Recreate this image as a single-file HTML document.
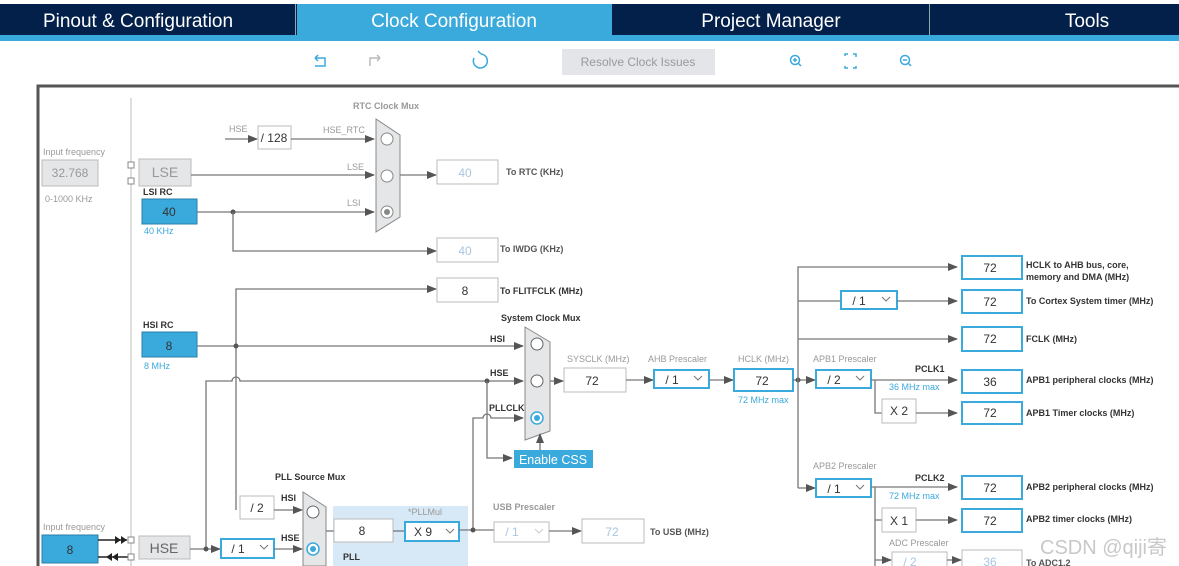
<!DOCTYPE html>
<html><head><meta charset="utf-8"><style>
html,body{margin:0;padding:0;background:#fff;width:1179px;height:566px;overflow:hidden}
svg{display:block}
text{font-family:"Liberation Sans",sans-serif}
.l{font-size:9px;fill:#555;font-weight:bold}
.lb{font-size:9px;fill:#333;font-weight:bold}
.g{font-size:9px;fill:#999}
.v{font-size:12px;fill:#333;text-anchor:middle}
.f{font-size:12px;fill:#a8c6e0;text-anchor:middle}
.bl{font-size:9px;fill:#3aa9dc}
.ln{stroke:#777;stroke-width:1.3;fill:none}
.bx{fill:#fff;stroke:#bbb;stroke-width:1}
.bb{fill:#fff;stroke:#3aa9dc;stroke-width:2}
</style></head><body>
<svg width="1179" height="566" viewBox="0 0 1179 566" xmlns="http://www.w3.org/2000/svg">
<defs>
<marker id="a" markerWidth="10" markerHeight="8" refX="9" refY="4" orient="auto" markerUnits="userSpaceOnUse"><path d="M0,0 L10,4 L0,8 z" fill="#555"/></marker>
</defs>
<rect x="0" y="4" width="1179" height="31" fill="#03204a"/>
<rect x="297" y="4" width="315" height="31" fill="#3aa9dc"/>
<rect x="0" y="35" width="1179" height="6" fill="#3aa9dc"/>
<rect x="295" y="4" width="1" height="31" fill="#8aa"/>
<rect x="929" y="4" width="1" height="31" fill="#8aa"/>
<g font-size="19" fill="#fff" text-anchor="middle">
<text x="138" y="27">Pinout &amp; Configuration</text>
<text x="454" y="27">Clock Configuration</text>
<text x="771" y="27">Project Manager</text>
<text x="1087" y="27">Tools</text>
</g>
<g stroke="#3aa9dc" stroke-width="1.5" fill="none">
<path d="M315,58 h10 v8 h-10 M315,58 l3,-3 M315,58 l3,3"/>
<path d="M474,58 a7,7 0 1,0 7,-4 M481,54 l-3,-3"/>
<circle cx="795" cy="60" r="4.5"/><path d="M798,63 l3,3 M793,60 h4 M795,58 v4"/>
<path d="M845,56 v-2 h3 M853,54 h3 v3 M856,66 v2 h-3 M848,68 h-3 v-2"/>
<circle cx="905" cy="60" r="4.5"/><path d="M908,63 l3,3 M903,60 h4"/>
</g>
<path d="M370,66 v-8 h10 M380,58 l-3,-3 M380,58 l-3,3" stroke="#bbb" stroke-width="1.5" fill="none"/>
<rect x="562" y="49" width="153" height="26" fill="#e3e5e8"/>
<text x="638" y="66" font-size="12" fill="#999" text-anchor="middle">Resolve Clock Issues</text>
<path d="M38,566 V86 H1179" stroke="#555" stroke-width="3" fill="none"/>
<line x1="131" y1="98" x2="131" y2="566" stroke="#ccc" stroke-width="1.3"/>

<text x="43" y="155" class="g">Input frequency</text>
<rect x="42" y="160" width="56" height="26" fill="#e4e6e8" stroke="#bbb"/>
<text x="70" y="177" font-size="12" fill="#999" text-anchor="middle">32.768</text>
<text x="45" y="202" class="g">0-1000 KHz</text>
<rect x="128" y="162" width="6" height="6" fill="#fff" stroke="#888"/>
<rect x="128" y="178" width="6" height="6" fill="#fff" stroke="#888"/>
<rect x="139" y="159" width="52" height="27" fill="#e4e6e8" stroke="#bbb"/>
<text x="165" y="177" font-size="14" fill="#999" text-anchor="middle">LSE</text>
<text x="143" y="195" class="lb" font-weight="normal">LSI RC</text>
<rect x="142" y="199" width="55" height="25" fill="#3aa9dc" stroke="#2a7fa8"/>
<text x="169" y="216" class="v">40</text>
<text x="144" y="234" class="bl">40 KHz</text>

<text x="353" y="109" class="g" font-weight="bold">RTC Clock Mux</text>
<polygon points="376,119 400,135 400,217 376,232" fill="#e4e6e8" stroke="#888"/>
<circle cx="387" cy="139" r="6" fill="#fff" stroke="#888"/>
<circle cx="387" cy="176" r="6" fill="#fff" stroke="#888"/>
<circle cx="387" cy="212" r="6" fill="#fff" stroke="#888"/><circle cx="387" cy="212" r="3" fill="#888"/>
<text x="229" y="132" class="g">HSE</text>
<line x1="225" y1="139" x2="257" y2="139" class="ln" marker-end="url(#a)"/>
<rect x="258" y="126" width="33" height="23" class="bx" stroke="#999"/>
<text x="274" y="142" class="v">/ 128</text>
<text x="323" y="133" class="g">HSE_RTC</text>
<line x1="291" y1="139" x2="374" y2="139" class="ln" marker-end="url(#a)"/>
<text x="347" y="170" class="g">LSE</text>
<line x1="191" y1="175" x2="374" y2="175" class="ln" marker-end="url(#a)"/>
<text x="347" y="206" class="g">LSI</text>
<line x1="197" y1="212" x2="374" y2="212" class="ln" marker-end="url(#a)"/>
<circle cx="233" cy="212" r="2.5" fill="#555"/>
<line x1="400" y1="175" x2="436" y2="175" class="ln" marker-end="url(#a)"/>
<rect x="437" y="160" width="61" height="24" class="bx"/>
<text x="465" y="177" class="f">40</text>
<text x="506" y="175" class="l">To RTC (KHz)</text>
<path d="M233,212 V251 H436" class="ln" marker-end="url(#a)"/>
<rect x="437" y="238" width="61" height="24" class="bx"/>
<text x="465" y="255" class="f">40</text>
<text x="500" y="252" class="l">To IWDG (KHz)</text>
<path d="M236,510 V289 H436" class="ln" marker-end="url(#a)"/>
<rect x="437" y="278" width="61" height="24" class="bx" stroke="#999"/>
<text x="465" y="295" class="v">8</text>
<text x="500" y="294" class="lb">To FLITFCLK (MHz)</text>

<text x="143" y="328" class="lb" font-weight="normal">HSI RC</text>
<rect x="142" y="332" width="55" height="25" fill="#3aa9dc" stroke="#2a7fa8"/>
<text x="169" y="350" class="v">8</text>
<text x="144" y="369" class="bl">8 MHz</text>
<line x1="197" y1="346" x2="523" y2="346" class="ln" marker-end="url(#a)"/>
<circle cx="236" cy="346" r="2.5" fill="#555"/>
<path d="M206,549 V381 H232 a4,4 0 0,1 8,0 H523" class="ln" marker-end="url(#a)"/>
<circle cx="487" cy="381" r="2.5" fill="#555"/>
<path d="M487,381 V458 H512" class="ln" marker-end="url(#a)"/>
<path d="M473,530 V418 H483 a4,4 0 0,1 8,0 H523" class="ln" marker-end="url(#a)"/>
<text x="490" y="342" class="lb">HSI</text>
<text x="490" y="376" class="lb">HSE</text>
<text x="489" y="411" class="lb">PLLCLK</text>
<text x="501" y="321" class="lb" fill="#444">System Clock Mux</text>
<polygon points="525,327 550,342 550,431 525,440" fill="#e4e6e8" stroke="#888"/>
<circle cx="537" cy="344" r="6" fill="#fff" stroke="#666"/>
<circle cx="537" cy="381" r="6" fill="#fff" stroke="#666"/>
<circle cx="537" cy="418" r="6" fill="#fff" stroke="#3aa9dc" stroke-width="1.5"/><circle cx="537" cy="418" r="3" fill="#3aa9dc"/>
<line x1="540" y1="450" x2="540" y2="434" class="ln" marker-end="url(#a)"/>
<rect x="514" y="450" width="79" height="18" fill="#3aa9dc"/>
<text x="553" y="464" font-size="12.5" fill="#fff" text-anchor="middle">Enable CSS</text>
<line x1="550" y1="381" x2="563" y2="381" class="ln" marker-end="url(#a)"/>
<text x="567" y="362" class="g" fill="#666">SYSCLK (MHz)</text>
<rect x="564" y="368" width="62" height="24" class="bx" stroke="#aaa"/>
<text x="592" y="385" class="v">72</text>

<text x="275" y="480" class="lb">PLL Source Mux</text>
<rect x="240" y="496" width="34" height="23" class="bx" stroke="#aaa"/>
<text x="257" y="512" class="v">/ 2</text>
<line x1="274" y1="510" x2="302" y2="510" class="ln" marker-end="url(#a)"/>
<text x="281" y="501" class="lb">HSI</text>
<text x="281" y="541" class="lb">HSE</text>
<polygon points="303,492 326,507 326,566 303,566" fill="#e4e6e8" stroke="#888"/>
<circle cx="313" cy="512" r="6" fill="#fff" stroke="#666"/>
<circle cx="313" cy="549" r="6" fill="#fff" stroke="#3aa9dc" stroke-width="1.5"/><circle cx="313" cy="549" r="3" fill="#3aa9dc"/>
<text x="43" y="530" class="g" fill="#666">Input frequency</text>
<rect x="42" y="535" width="56" height="28" fill="#3aa9dc" stroke="#2a7fa8"/>
<text x="70" y="554" class="v">8</text>
<line x1="98" y1="540" x2="127" y2="540" stroke="#222" stroke-width="1.5"/>
<path d="M115,536 l6,4 l-6,4z M121,536 l6,4 l-6,4z" fill="#222"/>
<line x1="98" y1="557" x2="128" y2="557" stroke="#222" stroke-width="1.5"/>
<path d="M112,553 l-6,4 l6,4z M118,553 l-6,4 l6,4z" fill="#222"/>
<rect x="128" y="537" width="6" height="6" fill="#fff" stroke="#888"/>
<rect x="128" y="554" width="6" height="6" fill="#fff" stroke="#888"/>
<rect x="139" y="536" width="51" height="23" fill="#e4e6e8" stroke="#bbb"/>
<text x="164" y="553" font-size="14" fill="#666" text-anchor="middle">HSE</text>
<line x1="190" y1="549" x2="220" y2="549" class="ln" marker-end="url(#a)"/>
<circle cx="206" cy="549" r="2.5" fill="#555"/>
<rect x="221" y="539" width="53" height="19" class="bb" stroke-width="1.5"/>
<text x="238" y="553" class="v">/ 1</text><path d="M260,545 l4,4 l4,-4" stroke="#777" fill="none"/>
<line x1="274" y1="549" x2="302" y2="549" class="ln" marker-end="url(#a)"/>
<rect x="333" y="506" width="135" height="60" fill="#d7e8f6"/>
<line x1="326" y1="531" x2="334" y2="531" class="ln"/>
<rect x="334" y="519" width="59" height="23" class="bx" stroke="#aaa"/>
<text x="362" y="535" class="v">8</text>
<line x1="393" y1="531" x2="405" y2="531" class="ln"/>
<text x="408" y="515" class="g" fill="#555">*PLLMul</text>
<text x="343" y="560" class="lb">PLL</text>
<rect x="405" y="522" width="54" height="19" class="bb" stroke-width="1.5"/>
<text x="423" y="536" class="v">X 9</text><path d="M446,529 l4,4 l4,-4" stroke="#777" fill="none"/>
<line x1="459" y1="530" x2="494" y2="530" class="ln"/>
<circle cx="473" cy="530" r="2.5" fill="#555"/>
<text x="493" y="510" class="g" font-weight="bold" fill="#aaa">USB Prescaler</text>
<rect x="494" y="522" width="55" height="20" class="bx"/>
<text x="512" y="536" class="f" fill="#bbb">/ 1</text><path d="M535,529 l4,4 l4,-4" stroke="#ccc" fill="none"/>
<line x1="549" y1="531" x2="581" y2="531" class="ln" marker-end="url(#a)"/>
<rect x="582" y="519" width="62" height="24" class="bx"/>
<text x="612" y="536" class="f">72</text>
<text x="650" y="535" class="l">To USB (MHz)</text>

<line x1="626" y1="380" x2="653" y2="380" class="ln" marker-end="url(#a)"/>
<text x="648" y="362" class="g" fill="#666">AHB Prescaler</text>
<rect x="654" y="370" width="55" height="18" class="bb" stroke-width="1.5"/>
<text x="672" y="384" class="v">/ 1</text><path d="M694,376 l4,4 l4,-4" stroke="#777" fill="none"/>
<line x1="709" y1="380" x2="733" y2="380" class="ln" marker-end="url(#a)"/>
<text x="738" y="362" class="g" fill="#666">HCLK (MHz)</text>
<rect x="734" y="369" width="59" height="22" class="bb"/>
<text x="762" y="385" class="v">72</text>
<text x="738" y="403" class="bl">72 MHz max</text>
<line x1="793" y1="380" x2="815" y2="380" class="ln" marker-end="url(#a)"/>
<circle cx="798" cy="380" r="2.5" fill="#555"/>
<path d="M798,488 V267 H957" class="ln" marker-end="url(#a)"/>
<line x1="798" y1="488" x2="815" y2="488" class="ln" marker-end="url(#a)"/>
<line x1="798" y1="301" x2="841" y2="301" class="ln"/>
<rect x="841" y="291" width="56" height="18" class="bb" stroke-width="1.5"/>
<text x="859" y="305" class="v">/ 1</text><path d="M882,297 l4,4 l4,-4" stroke="#777" fill="none"/>
<line x1="897" y1="301" x2="957" y2="301" class="ln" marker-end="url(#a)"/>
<line x1="798" y1="339" x2="957" y2="339" class="ln" marker-end="url(#a)"/>

<g>
<rect x="962" y="256" width="60" height="23" class="bb"/><text x="990" y="272" class="v">72</text>
<rect x="962" y="290" width="60" height="23" class="bb"/><text x="990" y="306" class="v">72</text>
<rect x="962" y="327" width="60" height="24" class="bb"/><text x="990" y="343" class="v">72</text>
<rect x="962" y="370" width="60" height="23" class="bb"/><text x="990" y="386" class="v">36</text>
<rect x="962" y="402" width="60" height="22" class="bb"/><text x="990" y="417" class="v">72</text>
<rect x="962" y="476" width="60" height="23" class="bb"/><text x="990" y="492" class="v">72</text>
<rect x="962" y="509" width="60" height="23" class="bb"/><text x="990" y="525" class="v">72</text>
<rect x="962" y="550" width="60" height="20" class="bx"/><text x="990" y="566" class="f">36</text>
</g>
<text x="1026" y="268" class="lb">HCLK to AHB bus, core,</text>
<text x="1026" y="280" class="lb">memory and DMA (MHz)</text>
<text x="1026" y="304" class="lb">To Cortex System timer (MHz)</text>
<text x="1026" y="342" class="lb">FCLK (MHz)</text>
<text x="1026" y="383" class="lb">APB1 peripheral clocks (MHz)</text>
<text x="1026" y="416" class="lb">APB1 Timer clocks (MHz)</text>
<text x="1026" y="490" class="lb">APB2 peripheral clocks (MHz)</text>
<text x="1026" y="522" class="lb">APB2 timer clocks (MHz)</text>
<text x="1026" y="566" class="l">To ADC1,2</text>

<text x="813" y="362" class="g" fill="#666">APB1 Prescaler</text>
<rect x="816" y="370" width="55" height="18" class="bb" stroke-width="1.5"/>
<text x="834" y="384" class="v">/ 2</text><path d="M856,376 l4,4 l4,-4" stroke="#777" fill="none"/>
<text x="915" y="372" class="lb">PCLK1</text>
<line x1="871" y1="380" x2="957" y2="380" class="ln" marker-end="url(#a)"/>
<text x="889" y="390" class="bl">36 MHz max</text>
<path d="M875,380 V413 H882" class="ln"/>
<rect x="882" y="399" width="34" height="24" class="bx" stroke="#aaa"/>
<text x="899" y="415" class="v">X 2</text>
<line x1="916" y1="413" x2="957" y2="413" class="ln" marker-end="url(#a)"/>
<text x="813" y="469" class="g" fill="#666">APB2 Prescaler</text>
<rect x="816" y="479" width="55" height="18" class="bb" stroke-width="1.5"/>
<text x="834" y="493" class="v">/ 1</text><path d="M856,485 l4,4 l4,-4" stroke="#777" fill="none"/>
<text x="915" y="481" class="lb">PCLK2</text>
<line x1="871" y1="487" x2="957" y2="487" class="ln" marker-end="url(#a)"/>
<text x="889" y="499" class="bl">72 MHz max</text>
<path d="M875,487 V566" class="ln"/>
<line x1="875" y1="520" x2="882" y2="520" class="ln"/>
<rect x="882" y="508" width="34" height="24" class="bx" stroke="#aaa"/>
<text x="899" y="525" class="v">X 1</text>
<line x1="916" y1="520" x2="957" y2="520" class="ln" marker-end="url(#a)"/>
<text x="889" y="546" class="g" fill="#666">ADC Prescaler</text>
<line x1="875" y1="560" x2="891" y2="560" class="ln" marker-end="url(#a)"/>
<rect x="892" y="552" width="55" height="18" class="bx"/>
<text x="910" y="566" class="f" fill="#bbb">/ 2</text>
<line x1="947" y1="560" x2="961" y2="560" class="ln" marker-end="url(#a)"/>
<text x="1040" y="554" font-size="20" fill="#c8c8c8" style="font-family:'Liberation Sans','Noto Sans CJK SC',sans-serif">CSDN @qiji寄</text>
</svg>
</body></html>
